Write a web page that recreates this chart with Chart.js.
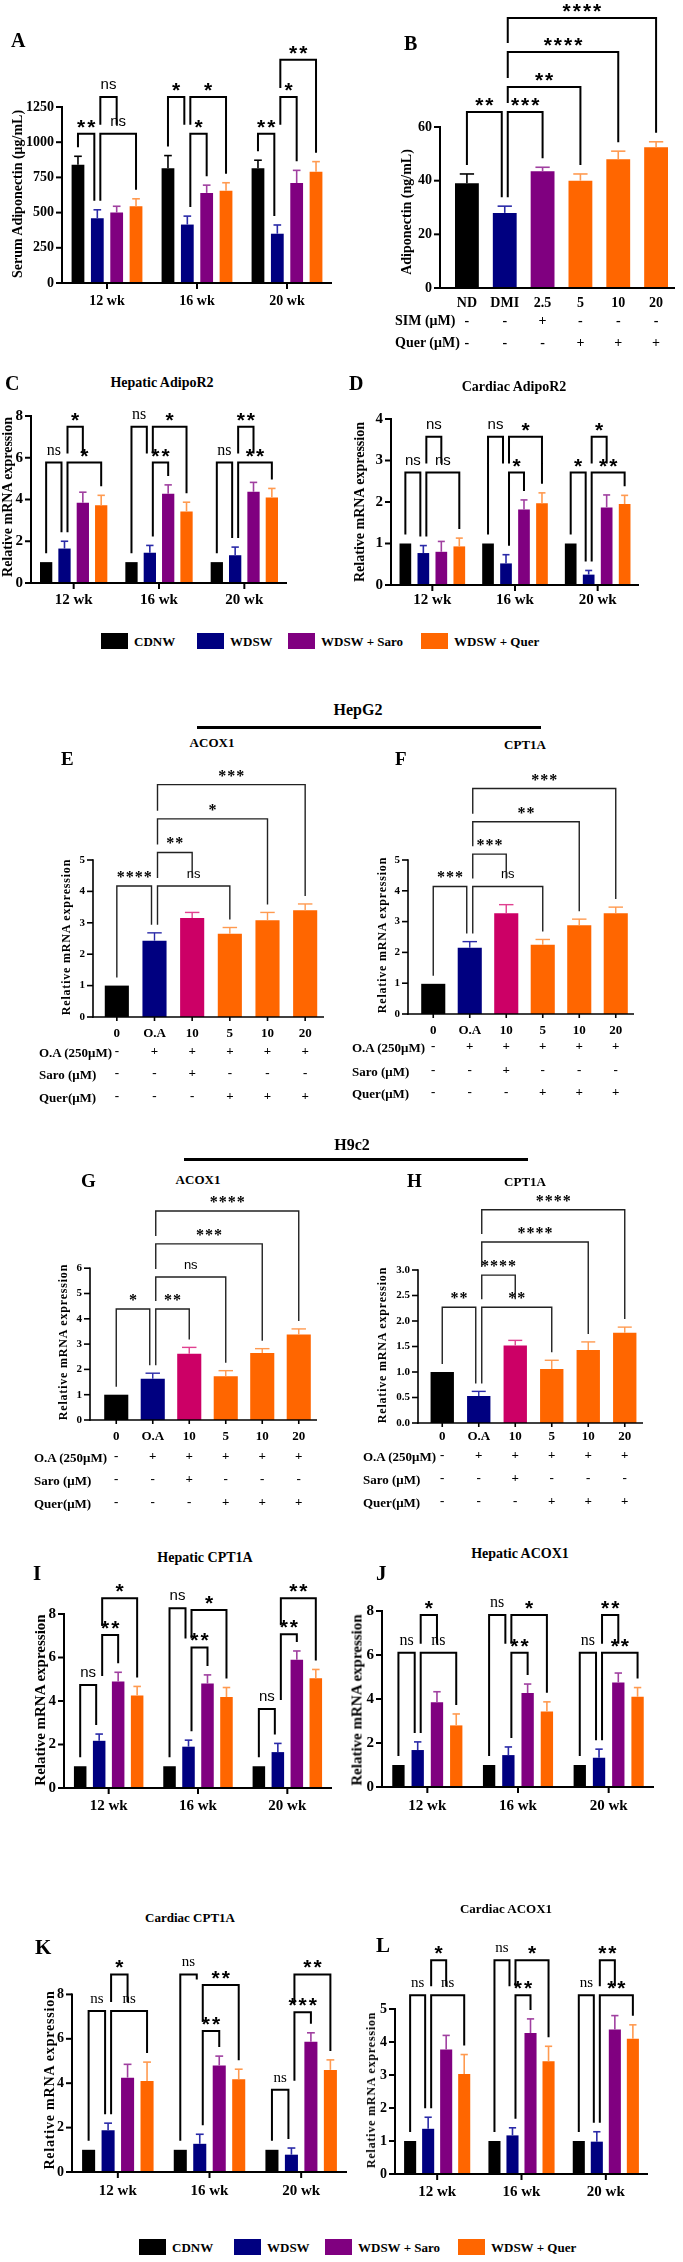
<!DOCTYPE html>
<html>
<head>
<meta charset="utf-8">
<title>Adiponectin, AdipoR2, CPT1A and ACOX1</title>
<script src="https://cdn.jsdelivr.net/npm/chart.js@4.4.1/dist/chart.umd.min.js"></script>
<style>
  body { margin:0; width:683px; height:2262px; position:relative; overflow:hidden; background:#fff;
         font-family:"Liberation Serif","Times New Roman",serif; font-weight:bold; color:#000; }
  .t { position:absolute; white-space:nowrap; line-height:1; }
  .box { position:absolute; }
  .rule { position:absolute; height:3px; background:#000; }
  canvas { position:absolute; }
</style>
</head>
<body>
<script>
// ---------- data ----------
const weeks = ['12 wk', '16 wk', '20 wk'];
const groupNames = ['CDNW', 'WDSW', 'WDSW + Saro', 'WDSW + Quer'];

// A - serum adiponectin
const aMeans = [[840, 815, 815], [460, 415, 350], [500, 640, 710], [545, 655, 790]];
const aErrs = [[60, 90, 57], [60, 60, 62], [45, 55, 90], [53, 57, 72]];
const aTicks = [0, 250, 500, 750, 1000, 1250];
const aSig = [
  [0, 0, 1, 1060, '**'], [0, 1, 2, 1321, 'ns'], [0, 1, 3, 1060, 'ns'],
  [1, 0, 1, 1321, '*'], [1, 1, 2, 1060, '*'], [1, 1, 3, 1321, '*'],
  [2, 0, 1, 1060, '**'], [2, 1, 2, 1321, '*'], [2, 1, 3, 1586, '**']
];

// B - adiponectin in 3T3 cells
const bCats = ['ND', 'DMI', '2.5', '5', '10', '20'];
const bMeans = [39, 28, 43.5, 40, 48, 52.5];
const bErrs = [3.5, 2.5, 1.5, 2.5, 3, 2];
const bSim = ['-', '-', '+', '-', '-', '-'];
const bQuer = ['-', '-', '-', '+', '+', '+'];
const bTicks = [0, 20, 40, 60];
const bSig = [[0, 1, 65.6, '**'], [1, 2, 65.6, '***'], [1, 3, 74.9, '**'], [1, 4, 88, '****'], [1, 5, 100.6, '****']];

// C - hepatic AdipoR2
const cMeans = [[1, 1, 1], [1.65, 1.45, 1.33], [3.85, 4.27, 4.37], [3.72, 3.43, 4.1]];
const cErrs = [[0, 0, 0], [0.35, 0.35, 0.39], [0.5, 0.43, 0.45], [0.48, 0.44, 0.43]];
const cTicks = [0, 2, 4, 6, 8];
const cSig = [
  [0, 0, 1, 5.77, 'ns'], [0, 1, 2, 7.49, '*'], [0, 1, 3, 5.77, '*'],
  [1, 0, 1, 7.49, 'ns'], [1, 1, 2, 5.77, '**'], [1, 1, 3, 7.49, '*'],
  [2, 0, 1, 5.77, 'ns'], [2, 1, 2, 7.49, '**'], [2, 1, 3, 5.77, '**']
];

// D - cardiac AdipoR2
const dMeans = [[1, 1, 1], [0.77, 0.52, 0.25], [0.8, 1.82, 1.87], [0.93, 1.97, 1.95]];
const dErrs = [[0, 0, 0], [0.18, 0.21, 0.1], [0.25, 0.23, 0.3], [0.2, 0.25, 0.21]];
const dTicks = [0, 1, 2, 3, 4];
const dSig = [
  [0, 0, 1, 2.71, 'ns'], [0, 1, 2, 3.57, 'ns'], [0, 1, 3, 2.71, 'ns'],
  [1, 0, 1, 3.57, 'ns'], [1, 1, 2, 2.71, '*'], [1, 1, 3, 3.57, '*'],
  [2, 0, 1, 2.71, '*'], [2, 1, 2, 3.57, '*'], [2, 1, 3, 2.71, '**']
];

// E-H - cell lines
const cellCats = ['0', 'O.A', '10', '5', '10', '20'];
const oaRow = ['-', '+', '+', '+', '+', '+'];
const saroRow = ['-', '-', '+', '-', '-', '-'];
const querRow = ['-', '-', '-', '+', '+', '+'];

const eMeans = [1, 2.43, 3.15, 2.65, 3.08, 3.4];
const eErrs = [0, 0.25, 0.18, 0.2, 0.25, 0.2];
const eTicks = [0, 1, 2, 3, 4, 5];
const eSig = [[0, 1, 4.17, '****'], [1, 3, 4.17, 'ns'], [1, 2, 5.24, '**'], [1, 4, 6.31, '*'], [1, 5, 7.4, '***']];

const fMeans = [0.98, 2.15, 3.27, 2.25, 2.88, 3.27];
const fErrs = [0, 0.2, 0.28, 0.17, 0.2, 0.2];
const fTicks = [0, 1, 2, 3, 4, 5];
const fSig = [[0, 1, 4.14, '***'], [1, 3, 4.14, 'ns'], [1, 2, 5.19, '***'], [1, 4, 6.24, '**'], [1, 5, 7.32, '***']];

const gMeans = [1, 1.63, 2.62, 1.73, 2.65, 3.38];
const gErrs = [0, 0.22, 0.25, 0.22, 0.17, 0.22];
const gTicks = [0, 1, 2, 3, 4, 5, 6];
const gSig = [[0, 1, 4.39, '*'], [1, 2, 4.39, '**'], [1, 3, 5.65, 'ns'], [1, 4, 6.96, '***'], [1, 5, 8.26, '****']];

const hMeans = [1, 0.53, 1.52, 1.06, 1.43, 1.77];
const hErrs = [0, 0.09, 0.1, 0.17, 0.16, 0.11];
const hTicks = [0, 0.5, 1, 1.5, 2, 2.5, 3];
const hSig = [[0, 1, 2.27, '**'], [1, 3, 2.27, '**'], [1, 2, 2.9, '****'], [1, 4, 3.55, '****'], [1, 5, 4.18, '****']];

// I - hepatic CPT1A
const iMeans = [[1, 1, 1], [2.17, 1.9, 1.65], [4.9, 4.8, 5.9], [4.25, 4.18, 5.05]];
const iErrs = [[0, 0, 0], [0.31, 0.3, 0.4], [0.42, 0.4, 0.4], [0.42, 0.44, 0.4]];
const iTicks = [0, 2, 4, 6, 8];
const iSig = [
  [0, 0, 1, 4.74, 'ns'], [0, 1, 2, 7.03, '**'], [0, 1, 3, 8.72, '*'],
  [1, 0, 1, 8.26, 'ns'], [1, 1, 2, 6.46, '**'], [1, 1, 3, 8.18, '*'],
  [2, 0, 1, 3.63, 'ns'], [2, 1, 2, 7.07, '**'], [2, 1, 3, 8.72, '**']
];

// J - hepatic ACOX1
const jMeans = [[1, 1, 1], [1.68, 1.45, 1.33], [3.85, 4.27, 4.75], [2.8, 3.43, 4.1]];
const jErrs = [[0, 0, 0], [0.37, 0.37, 0.39], [0.48, 0.41, 0.43], [0.52, 0.44, 0.42]];
const jTicks = [0, 2, 4, 6, 8];
const jSig = [
  [0, 0, 1, 6.1, 'ns'], [0, 1, 2, 7.82, '*'], [0, 1, 3, 6.1, 'ns'],
  [1, 0, 1, 7.82, 'ns'], [1, 1, 2, 6.1, '**'], [1, 1, 3, 7.82, '*'],
  [2, 0, 1, 6.1, 'ns'], [2, 1, 2, 7.82, '**'], [2, 1, 3, 6.1, '**']
];

// K - cardiac CPT1A
const kMeans = [[1, 1, 1], [1.88, 1.27, 0.78], [4.25, 4.8, 5.87], [4.1, 4.18, 4.6]];
const kErrs = [[0, 0, 0], [0.32, 0.43, 0.3], [0.6, 0.42, 0.4], [0.85, 0.45, 0.45]];
const kTicks = [0, 2, 4, 6, 8];
const kSig = [
  [0, 0, 1, 7.25, 'ns'], [0, 1, 2, 8.9, '*'], [0, 1, 3, 7.25, 'ns'],
  [1, 0, 1, 8.9, 'ns'], [1, 1, 2, 6.35, '**'], [1, 1, 3, 8.42, '**'],
  [2, 0, 1, 3.7, 'ns'], [2, 1, 2, 7.2, '***'], [2, 1, 3, 8.9, '**']
];

// L - cardiac ACOX1
const lMeans = [[1, 1, 1], [1.37, 1.17, 0.98], [3.77, 4.27, 4.38], [3.03, 3.42, 4.1]];
const lErrs = [[0, 0, 0], [0.35, 0.23, 0.3], [0.43, 0.43, 0.42], [0.59, 0.45, 0.42]];
const lTicks = [0, 1, 2, 3, 4, 5];
const lSig = [
  [0, 0, 1, 5.42, 'ns'], [0, 1, 2, 6.48, '*'], [0, 1, 3, 5.42, 'ns'],
  [1, 0, 1, 6.48, 'ns'], [1, 1, 2, 5.42, '**'], [1, 1, 3, 6.48, '*'],
  [2, 0, 1, 5.42, 'ns'], [2, 1, 2, 6.48, '**'], [2, 1, 3, 5.42, '**']
];

// ---------- styles ----------
const COLORS = ['#000000', '#000080', '#800080', '#ff6600'];
const ERR_COLORS = ['#000000', '#2a2aa8', '#a040a0', '#ff9a50'];
const B_COLORS = ['#000000', '#000080', '#800080', '#ff6600', '#ff6600', '#ff6600'];
const B_ERR = ['#000000', '#2a2aa8', '#a040a0', '#ff9a50', '#ff9a50', '#ff9a50'];
const CELL_COLORS = ['#000000', '#000080', '#cc0066', '#ff6600', '#ff6600', '#ff6600'];
const CELL_ERR = ['#000000', '#2a2aa8', '#e04090', '#ff9a50', '#ff9a50', '#ff9a50'];

const SANS = '"Liberation Sans", Arial, sans-serif';
const SERIF = '"Liberation Serif", "Times New Roman", serif';
const STY1 = { axW: 2, brW: 2, brCol: '#000', errW: 1.6, star: 'bold 21px ' + SANS, starSp: 2, starLift: 0,
               ns: '15px ' + SANS, nsLift: 8, legGap: 9, sh: 3 };
const STY2 = { axW: 1.6, brW: 1.4, brCol: '#222', errW: 1.4, star: 'bold 16px ' + SERIF, starSp: 1, starLift: 4,
               ns: '13px ' + SANS, nsLift: 8, legGap: 8, sh: 3 };

// ---------- helpers ----------
function txt(s, x, y, size, mode, extra) {
  const d = document.createElement('div');
  d.className = 't';
  d.textContent = s;
  d.style.left = x + 'px';
  d.style.top = y + 'px';
  d.style.fontSize = size + 'px';
  if (mode === 'c') d.style.transform = 'translate(-50%,-50%)';
  else if (mode === 'r') d.style.transform = 'translate(-50%,-50%) rotate(-90deg)';
  else d.style.transform = 'translate(0,-50%)';
  if (extra) Object.assign(d.style, extra);
  document.body.appendChild(d);
}

function legend(y, boxX) {
  groupNames.forEach((n, k) => {
    const b = document.createElement('div');
    b.className = 'box';
    Object.assign(b.style, { left: boxX[k] + 'px', top: (y - 8) + 'px', width: '27px', height: '16px', background: COLORS[k] });
    document.body.appendChild(b);
    txt(n, boxX[k] + 33, y, 13);
  });
}

function rule(x1, x2, y) {
  const r = document.createElement('div');
  r.className = 'rule';
  Object.assign(r.style, { left: x1 + 'px', top: (y - 1.5) + 'px', width: (x2 - x1) + 'px' });
  document.body.appendChild(r);
}

function marksPlugin(o, sig, top) {
  return {
    id: 'marks',
    afterDraw(chart) {
      const ctx = chart.ctx, a = chart.chartArea, xs = chart.scales.x, ys = chart.scales.y;
      const st = o.sty;
      const line = (x1, y1, x2, y2) => { ctx.beginPath(); ctx.moveTo(x1, y1); ctx.lineTo(x2, y2); ctx.stroke(); };
      ctx.save();

      // error bars (upper only)
      chart.data.datasets.forEach((ds, d) => {
        chart.getDatasetMeta(d).data.forEach((bar, i) => {
          const e = ds.errs[i];
          if (!e) return;
          const yt = ys.getPixelForValue(ds.data[i] + e);
          const half = bar.width * 0.3;
          ctx.strokeStyle = Array.isArray(ds.errColor) ? ds.errColor[i] : ds.errColor;
          ctx.lineWidth = st.errW;
          line(bar.x, bar.y, bar.x, yt);
          line(bar.x - half, yt, bar.x + half, yt);
        });
      });

      // axes
      const axX = a.left - (o.gapL || 0);
      ctx.strokeStyle = '#000';
      ctx.lineWidth = st.axW;
      const yTop = ys.getPixelForValue(o.ticks[o.ticks.length - 1]);
      line(axX, a.bottom + st.axW / 2, axX, yTop - st.axW / 2);
      line(axX - st.axW / 2, a.bottom, a.right + (o.extR || 0), a.bottom);
      o.ticks.forEach(v => { const py = ys.getPixelForValue(v); line(axX - 6, py, axX, py); });
      if (o.xTick) xs.ticks.forEach((t, i) => { const px = xs.getPixelForValue(i); line(px, a.bottom, px, a.bottom + o.xTick); });

      // significance brackets
      const barAt = (d, i) => chart.getDatasetMeta(d).data[i];
      const key = (d, i) => d + ':' + i;
      const lefts = new Set(sig.map(s => key(s.d1, s.i1)));
      const rights = new Set(sig.map(s => key(s.d2, s.i2)));
      const geo = sig.map(s => ({
        s,
        x1: barAt(s.d1, s.i1).x + (rights.has(key(s.d1, s.i1)) ? st.sh : 0),
        x2: barAt(s.d2, s.i2).x - (lefts.has(key(s.d2, s.i2)) ? st.sh : 0),
        ly: ys.getPixelForValue(s.v)
      }));
      const foot = (g, x, d, i) => {
        const ds = chart.data.datasets[d];
        let yb = ys.getPixelForValue(ds.data[i] + (ds.errs[i] || 0)) - st.legGap;
        geo.forEach(q => {
          if (q !== g && q.ly > g.ly + 2 && x >= q.x1 - 7 && x <= q.x2 + 7) yb = Math.min(yb, q.ly - st.legGap);
        });
        return Math.max(yb, g.ly + 5);
      };
      ctx.strokeStyle = st.brCol;
      ctx.lineWidth = st.brW;
      ctx.lineJoin = 'miter';
      geo.forEach(g => {
        ctx.beginPath();
        ctx.moveTo(g.x1, foot(g, g.x1, g.s.d1, g.s.i1));
        ctx.lineTo(g.x1, g.ly);
        ctx.lineTo(g.x2, g.ly);
        ctx.lineTo(g.x2, foot(g, g.x2, g.s.d2, g.s.i2));
        ctx.stroke();
        const ns = g.s.t === 'ns';
        ctx.font = ns ? (o.nsFont || st.ns) : st.star;
        ctx.letterSpacing = (ns ? 0 : st.starSp) + 'px';
        ctx.fillStyle = '#000';
        ctx.textAlign = 'center';
        ctx.textBaseline = 'alphabetic';
        ctx.fillText(g.s.t, (g.x1 + g.x2) / 2 + (ns ? 0 : st.starSp / 2), g.ly - (ns ? st.nsLift : st.starLift));
      });
      ctx.letterSpacing = '0px';

      // treatment rows (+ / -)
      if (o.rows) {
        ctx.font = o.rowFont;
        ctx.fillStyle = '#000';
        ctx.textAlign = 'center';
        ctx.textBaseline = 'middle';
        o.rows.forEach((row, r) => row.forEach((m, i) => ctx.fillText(m, xs.getPixelForValue(i), o.rowY[r] - top)));
      }
      ctx.restore();
    }
  };
}

const Wy = 60;
function panel(o) {
  const gapL = o.gapL || 0, extR = o.extR || 0;
  const left = Math.round(o.ax + gapL - Wy);
  const top = Math.round(o.y0 - o.ymax * o.unit);
  const ymax = (Math.round(o.y0) - top) / o.unit;
  const W = Math.round(o.xe - extR) - left;
  const H = Math.round(o.y0) - top + o.hx;
  const cv = document.createElement('canvas');
  cv.width = W;
  cv.height = H;
  Object.assign(cv.style, { left: left + 'px', top: top + 'px', width: W + 'px', height: H + 'px' });
  document.body.appendChild(cv);

  let labels, datasets, sig;
  if (o.table) {
    labels = o.labels;
    datasets = [{ label: 'mean', data: o.means, errs: o.errs, backgroundColor: o.colors, errColor: o.errColors }];
    sig = o.sig.map(s => ({ d1: 0, i1: s[0], d2: 0, i2: s[1], v: s[2], t: s[3] }));
  } else {
    labels = weeks;
    datasets = o.means.map((m, k) => ({ label: groupNames[k], data: m, errs: o.errs[k], backgroundColor: COLORS[k], errColor: ERR_COLORS[k] }));
    sig = o.sig.map(s => ({ d1: s[1], i1: s[0], d2: s[2], i2: s[0], v: s[3], t: s[4] }));
  }

  new Chart(cv, {
    type: 'bar',
    data: { labels, datasets },
    options: {
      responsive: false,
      animation: false,
      devicePixelRatio: 1,
      layout: { padding: 0, autoPadding: false },
      plugins: { legend: { display: false }, tooltip: { enabled: false }, title: { display: false } },
      datasets: { bar: { categoryPercentage: o.cp, barPercentage: o.bp, borderWidth: 0 } },
      scales: {
        x: {
          grid: { display: false, drawTicks: false, tickLength: 0 },
          border: { display: false },
          ticks: { color: '#000', font: { family: SERIF, size: o.xl, weight: 'bold' }, padding: o.xPad, maxRotation: 0, autoSkip: false },
          afterFit: s => { s.height = o.hx; s.paddingLeft = 0; s.paddingRight = 0; }
        },
        y: {
          min: 0, max: ymax,
          grid: { display: false, drawTicks: false, tickLength: 0 },
          border: { display: false },
          ticks: { color: '#000', font: { family: SERIF, size: o.tick, weight: 'bold' }, padding: gapL + 8,
                   callback: v => (o.fmt ? o.fmt(v) : v) },
          afterBuildTicks: s => { s.ticks = o.ticks.map(v => ({ value: v })); },
          afterFit: s => { s.width = Wy; s.paddingTop = 0; s.paddingBottom = 0; }
        }
      }
    },
    plugins: [marksPlugin(o, sig, top)]
  });
}

// ---------- panels ----------
const cellRows = [oaRow, saroRow, querRow];
const rowFont = 'bold 13px ' + SERIF;

panel({ ax: 62, xe: 332, y0: 283, unit: 0.1408, ymax: 1780, hx: 35, ticks: aTicks, means: aMeans, errs: aErrs, sig: aSig,
        cp: 0.86, bp: 0.66, tick: 14, xl: 14, xPad: 10, xTick: 6, sty: STY1 });
panel({ table: true, ax: 440, gapL: 8, xe: 675, y0: 288, unit: 2.683, ymax: 107, hx: 70, ticks: bTicks, labels: bCats,
        means: bMeans, errs: bErrs, colors: B_COLORS, errColors: B_ERR, sig: bSig, cp: 1, bp: 0.63, tick: 14, xl: 14, xPad: 6.6,
        xTick: 0, rows: [bSim, bQuer], rowY: [321, 343], rowFont: 'bold 14px ' + SERIF, sty: STY1 });
panel({ ax: 31, xe: 287, y0: 583, unit: 20.875, ymax: 9, hx: 35, ticks: cTicks, means: cMeans, errs: cErrs, sig: cSig,
        cp: 0.86, bp: 0.67, tick: 15, xl: 15, xPad: 8, xTick: 6, sty: STY1, nsFont: '16px ' + SERIF });
panel({ ax: 391, xe: 639, y0: 585, unit: 41.5, ymax: 4.3, hx: 35, ticks: dTicks, means: dMeans, errs: dErrs, sig: dSig,
        cp: 0.87, bp: 0.65, tick: 15, xl: 15, xPad: 6, xTick: 6, sty: STY1 });

panel({ table: true, ax: 93, gapL: 5, xe: 330, extR: 6, y0: 1017, unit: 31.4, ymax: 8.1, hx: 95, ticks: eTicks, labels: cellCats,
        means: eMeans, errs: eErrs, colors: CELL_COLORS, errColors: CELL_ERR, sig: eSig, cp: 1, bp: 0.64, tick: 11, xl: 13,
        xPad: 9, xTick: 4, rows: cellRows, rowY: [1052, 1074, 1097], rowFont, sty: STY2 });
panel({ table: true, ax: 408, gapL: 7, xe: 641, extR: 7, y0: 1014, unit: 30.8, ymax: 8.1, hx: 95, ticks: fTicks, labels: cellCats,
        means: fMeans, errs: fErrs, colors: CELL_COLORS, errColors: CELL_ERR, sig: fSig, cp: 1, bp: 0.66, tick: 11, xl: 13,
        xPad: 9, xTick: 4, rows: cellRows, rowY: [1047, 1071, 1093], rowFont, sty: STY2 });
panel({ table: true, ax: 90, gapL: 8, xe: 323, extR: 6, y0: 1420, unit: 25.3, ymax: 9.1, hx: 95, ticks: gTicks, labels: cellCats,
        means: gMeans, errs: gErrs, colors: CELL_COLORS, errColors: CELL_ERR, sig: gSig, cp: 1, bp: 0.66, tick: 11, xl: 13,
        xPad: 9, xTick: 4, rows: cellRows, rowY: [1457, 1480, 1503], rowFont, sty: STY2 });
panel({ table: true, ax: 418, gapL: 6, xe: 651, extR: 8, y0: 1423, unit: 51, ymax: 4.6, hx: 95, ticks: hTicks, labels: cellCats,
        means: hMeans, errs: hErrs, colors: CELL_COLORS, errColors: CELL_ERR, sig: hSig, cp: 1, bp: 0.64, tick: 11, xl: 13,
        xPad: 6, xTick: 4, rows: cellRows, rowY: [1456, 1479, 1502], rowFont, sty: STY2, fmt: v => v.toFixed(1) });

panel({ ax: 64, xe: 332, y0: 1788, unit: 21.75, ymax: 10, hx: 35, ticks: iTicks, means: iMeans, errs: iErrs, sig: iSig,
        cp: 0.85, bp: 0.66, tick: 15, xl: 15, xPad: 9, xTick: 6, sty: STY1 });
panel({ ax: 382, xe: 654, y0: 1787, unit: 22, ymax: 9, hx: 35, ticks: jTicks, means: jMeans, errs: jErrs, sig: jSig,
        cp: 0.85, bp: 0.64, tick: 15, xl: 15, xPad: 10, xTick: 6, sty: STY1, nsFont: '16px ' + SERIF });
panel({ ax: 72, xe: 347, y0: 2172, unit: 22.2, ymax: 10, hx: 35, ticks: kTicks, means: kMeans, errs: kErrs, sig: kSig,
        cp: 0.85, bp: 0.67, tick: 14, xl: 15, xPad: 10, xTick: 6, sty: STY1, nsFont: '15px ' + SERIF });
panel({ ax: 395, xe: 648, y0: 2174, unit: 33, ymax: 7.2, hx: 35, ticks: lTicks, means: lMeans, errs: lErrs, sig: lSig,
        cp: 0.855, bp: 0.67, tick: 14, xl: 15, xPad: 9, xTick: 6, sty: STY1, nsFont: '15px ' + SERIF });

// ---------- text ----------
txt('A', 11, 40, 20);
txt('Serum Adiponectin (μg/mL)', 18, 194, 14, 'r');
txt('B', 404, 43, 20);
txt('Adiponectin (ng/mL)', 407, 212, 14, 'r');
txt('SIM (μM)', 395, 321, 14);
txt('Quer (μM)', 395, 343, 14);

txt('C', 5, 383, 20);
txt('Hepatic AdipoR2', 162, 383, 14, 'c');
txt('Relative mRNA expression', 8, 497, 14, 'r');
txt('D', 349, 383, 20);
txt('Cardiac AdipoR2', 514, 387, 14, 'c');
txt('Relative mRNA expression', 360, 502, 14, 'r');

legend(641, [101, 197, 288, 421]);

txt('HepG2', 358, 710, 16, 'c');
rule(197, 541, 727);
txt('ACOX1', 212, 742, 13, 'c');
txt('CPT1A', 525, 744, 13, 'c');
txt('E', 61, 758, 19);
txt('F', 395, 758, 19);
txt('Relative mRNA expression', 66, 937, 12, 'r', { letterSpacing: '0.8px' });
txt('Relative mRNA expression', 382, 935, 12, 'r', { letterSpacing: '0.8px' });
[['O.A (250μM)', 1052], ['Saro (μM)', 1074], ['Quer(μM)', 1097]].forEach(r => txt(r[0], 39, r[1], 13));
[['O.A (250μM)', 1047], ['Saro (μM)', 1071], ['Quer(μM)', 1093]].forEach(r => txt(r[0], 352, r[1], 13));

txt('H9c2', 352, 1145, 16, 'c');
rule(184, 528, 1159);
txt('G', 81, 1180, 19);
txt('ACOX1', 198, 1179, 13, 'c');
txt('H', 407, 1180, 19);
txt('CPT1A', 525, 1181, 13, 'c');
txt('Relative mRNA expression', 63, 1342, 12, 'r', { letterSpacing: '0.8px' });
txt('Relative mRNA expression', 382, 1345, 12, 'r', { letterSpacing: '0.8px' });
[['O.A (250μM)', 1457], ['Saro (μM)', 1480], ['Quer(μM)', 1503]].forEach(r => txt(r[0], 34, r[1], 13));
[['O.A (250μM)', 1456], ['Saro (μM)', 1479], ['Quer(μM)', 1502]].forEach(r => txt(r[0], 363, r[1], 13));

txt('Hepatic CPT1A', 205, 1558, 14, 'c');
txt('I', 33, 1573, 21);
txt('Relative mRNA expression', 40, 1700, 15, 'r');
txt('Hepatic ACOX1', 520, 1554, 14, 'c');
txt('J', 376, 1573, 21);
txt('Relative mRNA expression', 357, 1700, 15, 'r');

txt('Cardiac CPT1A', 190, 1917, 13, 'c');
txt('K', 35, 1947, 21);
txt('Relative mRNA expression', 50, 2080, 14, 'r', { letterSpacing: '0.8px' });
txt('Cardiac ACOX1', 506, 1908, 13, 'c');
txt('L', 376, 1945, 21);
txt('Relative mRNA expression', 371, 2090, 12, 'r', { letterSpacing: '0.8px' });

legend(2247, [139, 234, 325, 458]);
</script>
</body>
</html>
